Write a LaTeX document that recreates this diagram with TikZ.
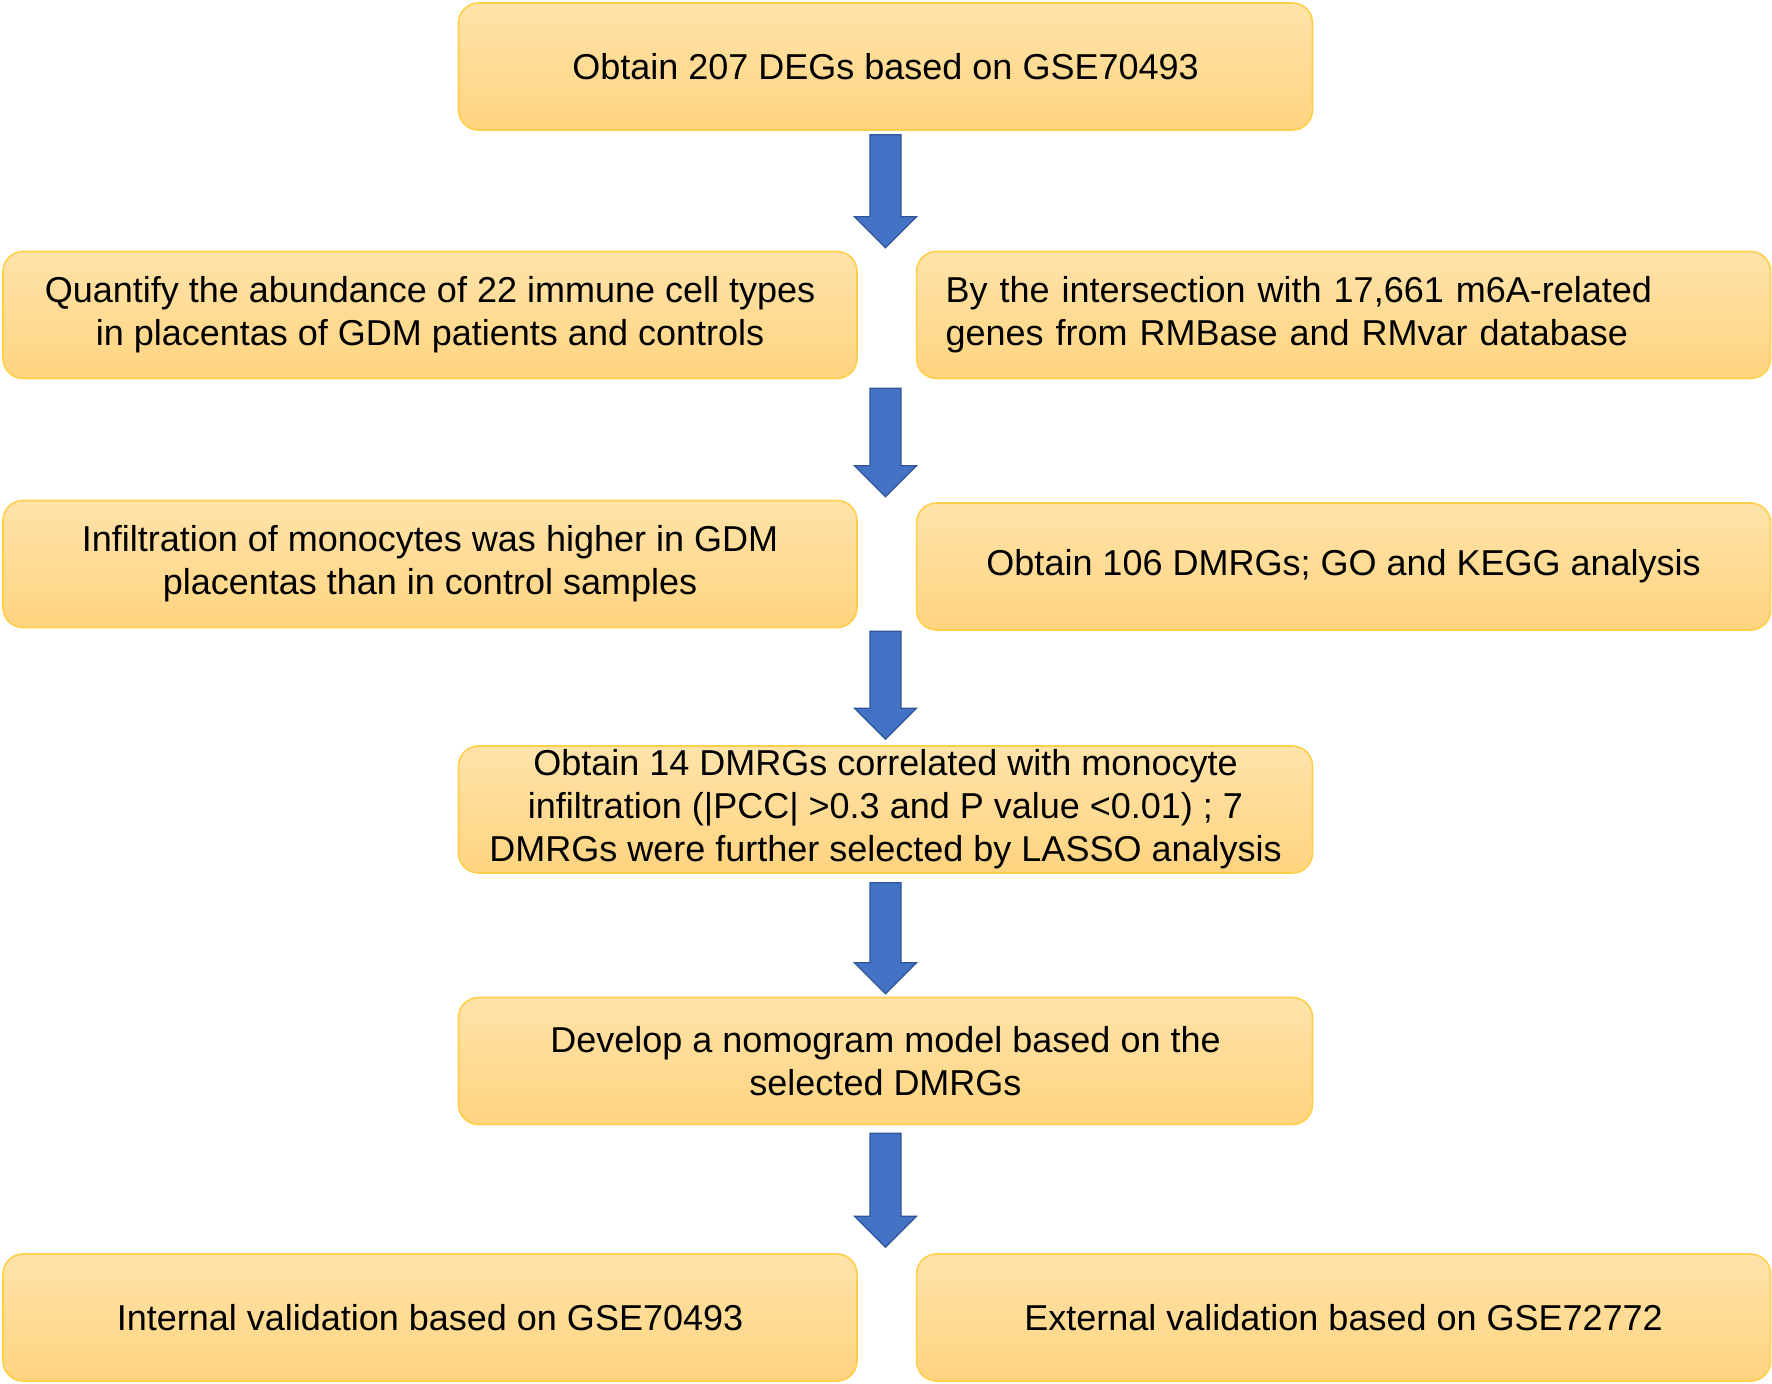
\documentclass[tikz,border=0pt]{standalone}
\usepackage{fontspec}
\setmainfont{Liberation Sans}
\usetikzlibrary{positioning,calc}

\definecolor{boxtop}{HTML}{FFE3AA}
\definecolor{boxbottom}{HTML}{FFD47F}
\definecolor{boxedge}{HTML}{FFCF4A}
\definecolor{arrowblue}{HTML}{4472C4}
\definecolor{arrowedge}{HTML}{2F5597}

% block arrow from #1 (top of shaft) down to #2 (tip)
\newcommand{\flowarrow}[2]{%
  \filldraw[fill=arrowblue, draw=arrowedge, line width=0.6pt]
    ($(#1)+(-15.5,0)$) -- ($(#1)+(15.5,0)$) -- ($(#2)+(15.5,-31)$) -- ($(#2)+(31,-31)$)
    -- (#2) -- ($(#2)+(-31,-31)$) -- ($(#2)+(-15.5,-31)$) -- cycle;}

\begin{document}
\begin{tikzpicture}[x=0.5pt, y=-0.5pt, node distance=29pt,
  stage/.style = {draw=boxedge, line width=0.8pt, rounded corners=10pt,
    top color=boxtop, bottom color=boxbottom, minimum width=427pt,
    minimum height=63.5pt, inner sep=0pt, align=center,
    font=\fontsize{18}{21.5}\selectfont},
  stageleft/.style = {stage, align=left, text width=398pt}]
\useasboundingbox (0,0) rectangle (1772,1383);

\node[stage] (degs) at (885.5,66.5) {Obtain 207 DEGs based on GSE70493};
\node[stage] (immune) at (430,315) {Quantify the abundance of 22 immune cell types\\in placentas of GDM patients and controls};
\node[stageleft, right=of immune] (mfa) {By the intersection with 17,661 m6A-related\\genes from RMBase and RMvar database};
\node[stage] (mono) at (430,564) {Infiltration of monocytes was higher in GDM\\placentas than in control samples};
\node[stage, right=of mono, yshift=-1.25pt] (dmrgs) {Obtain 106 DMRGs; GO and KEGG analysis};
\node[stage] (corr) at (885.5,809.5) {Obtain 14 DMRGs correlated with monocyte\\infiltration (|PCC| >0.3 and P value <0.01) ; 7\\DMRGs were further selected by LASSO analysis};
\node[stage] (nomo) at (885.5,1061) {Develop a nomogram model based on the\\selected DMRGs};
\node[stage] (internal) at (430,1317.5) {Internal validation based on GSE70493};
\node[stage, right=of internal] (external) {External validation based on GSE72772};

% arrows between the rows
\coordinate (a1s) at ($(degs.south)+(0,4)$);
\coordinate (a1e) at ($(degs.south |- immune.north)+(0,-3)$);
\coordinate (a2s) at ($(degs.south |- immune.south)+(0,9)$);
\coordinate (a2e) at ($(degs.south |- mono.north)+(0,-3)$);
\coordinate (a3s) at ($(degs.south |- mono.south)+(0,3)$);
\coordinate (a3e) at ($(corr.north)+(0,-6)$);
\coordinate (a4s) at ($(corr.south)+(0,9)$);
\coordinate (a4e) at ($(nomo.north)+(0,-3)$);
\coordinate (a5s) at ($(nomo.south)+(0,8)$);
\coordinate (a5e) at ($(degs.south |- internal.north)+(0,-6)$);
\flowarrow{a1s}{a1e}
\flowarrow{a2s}{a2e}
\flowarrow{a3s}{a3e}
\flowarrow{a4s}{a4e}
\flowarrow{a5s}{a5e}
\end{tikzpicture}
\end{document}
